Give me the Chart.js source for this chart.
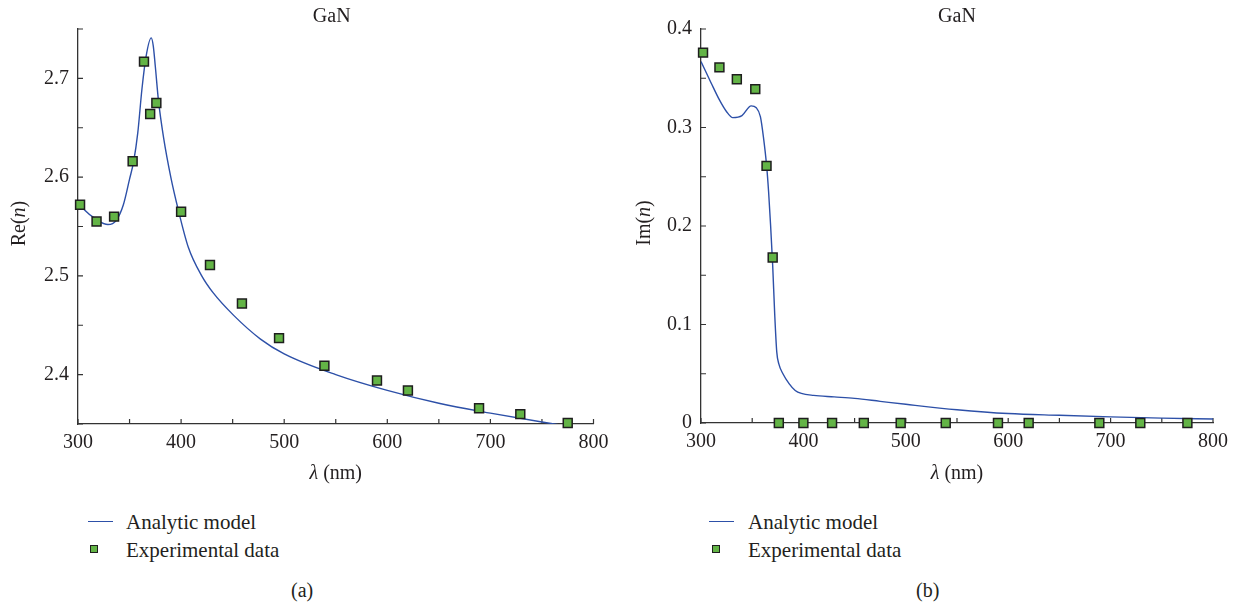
<!DOCTYPE html>
<html>
<head>
<meta charset="utf-8">
<script src="https://cdn.jsdelivr.net/npm/chart.js@4.4.1/dist/chart.umd.min.js"></script>
<style>
  body { margin: 0; background: #fff; width: 1242px; height: 607px; position: relative; overflow: hidden;
         font-family: 'Liberation Serif', serif; color: #231f20; }
  canvas { position: absolute; top: 0; }
  .txt { position: absolute; font-size: 20px; line-height: 24px; white-space: nowrap; }
  .leg { font-size: 21px; }
  .leg-line { position: absolute; width: 25px; height: 0; border-top: 1.4px solid #2d50a8; }
  .leg-sq { position: absolute; width: 6px; height: 6px; background: #63b446; border: 1.3px solid #1e1e1e; }
</style>
</head>
<body>
<canvas id="re-chart" width="621" height="500" style="left:0"></canvas>
<canvas id="im-chart" width="621" height="500" style="left:621px"></canvas>

<!-- legends + panel captions -->
<div class="leg-line" style="left:88px; top:521px"></div>
<div class="txt leg" style="left:126px; top:510px">Analytic model</div>
<div class="leg-sq" style="left:90px; top:545px"></div>
<div class="txt leg" style="left:126px; top:538px">Experimental data</div>
<div class="txt" style="left:291px; top:578px">(a)</div>

<div class="leg-line" style="left:709px; top:521px"></div>
<div class="txt leg" style="left:748px; top:510px">Analytic model</div>
<div class="leg-sq" style="left:712px; top:545px"></div>
<div class="txt leg" style="left:748px; top:538px">Experimental data</div>
<div class="txt" style="left:916px; top:578px">(b)</div>

<script>
// experimental points (wavelength in nm)
const expWl = [302, 318, 335, 353, 364, 370, 376, 400, 428, 459, 495, 539, 590, 620, 689, 729, 775];
const reExp = [2.572, 2.555, 2.560, 2.616, 2.717, 2.664, 2.675, 2.565, 2.511, 2.472, 2.437, 2.409, 2.394, 2.384, 2.366, 2.360, 2.351];
const imExp = [0.376, 0.361, 0.349, 0.339, 0.261, 0.168, 0, 0, 0, 0, 0, 0, 0, 0, 0, 0, 0];

// analytic model
const reModelWl = [300, 304, 318, 329, 337, 344, 350, 354, 358, 362, 366, 371, 373, 375, 378, 383, 390, 397, 407, 420, 431, 451, 477, 500, 550, 600, 650, 700, 750, 780];
const reModel = [2.574, 2.569, 2.557, 2.552, 2.556, 2.572, 2.598, 2.616, 2.645, 2.689, 2.722, 2.741, 2.733, 2.712, 2.678, 2.640, 2.600, 2.568, 2.529, 2.500, 2.483, 2.460, 2.436, 2.421, 2.400, 2.384, 2.371, 2.361, 2.352, 2.347];
const imModelWl = [300, 310, 318, 325, 331, 340, 349, 354, 358, 361, 364, 366, 368, 370, 372, 374, 376, 380, 386, 392, 398, 410, 430, 450, 475, 500, 550, 600, 650, 700, 750, 800];
const imModel = [0.367, 0.345, 0.328, 0.316, 0.310, 0.312, 0.322, 0.320, 0.311, 0.290, 0.262, 0.235, 0.200, 0.160, 0.110, 0.072, 0.060, 0.050, 0.040, 0.033, 0.030, 0.028, 0.0265, 0.025, 0.022, 0.019, 0.0135, 0.0096, 0.0078, 0.0062, 0.005, 0.004];

// axes
const xTicks = [300, 400, 500, 600, 700, 800];
const xMarks = [300, 350, 400, 450, 500, 550, 600, 650, 700, 750, 800];
const reTicks = [2.4, 2.5, 2.6, 2.7];
const reMarks = [2.35, 2.4, 2.45, 2.5, 2.55, 2.6, 2.65, 2.7, 2.75];
const imTicks = [0, 0.1, 0.2, 0.3, 0.4];
const imMarks = [0, 0.05, 0.1, 0.15, 0.2, 0.25, 0.3, 0.35, 0.4];

const TXT = '#231f20';
const AXIS = '#333';
const FONT = { family: "'Liberation Serif', serif", size: 20 };

Chart.defaults.font.family = FONT.family;

function drawRich(ctx, parts, x, y, rot) {
    ctx.save();
    ctx.translate(x, y);
    ctx.rotate(rot);
    const fonts = parts.map(p => (p[1] ? 'italic ' : '') + '20px "Liberation Serif", serif');
    let total = 0;
    const ws = parts.map((p, i) => { ctx.font = fonts[i]; const w = ctx.measureText(p[0]).width; total += w; return w; });
    let cx = -total / 2;
    ctx.fillStyle = TXT;
    ctx.textAlign = 'left';
    ctx.textBaseline = 'alphabetic';
    parts.forEach((p, i) => { ctx.font = fonts[i]; ctx.fillText(p[0], cx, 0); cx += ws[i]; });
    ctx.restore();
}

// inward ticks and the titles with italic symbols
const decor = {
    id: 'decor',
    beforeDatasetsDraw(chart, args, o) {
        const { ctx, chartArea: a, scales: { x, y } } = chart;
        ctx.save();
        ctx.strokeStyle = AXIS;
        ctx.lineWidth = 1.2;
        ctx.beginPath();
        o.xMarks.forEach(v => {
            const p = x.getPixelForValue(v);
            ctx.moveTo(p, a.bottom); ctx.lineTo(p, a.bottom - 5);
        });
        o.yMarks.forEach(v => {
            const p = y.getPixelForValue(v);
            ctx.moveTo(a.left, p); ctx.lineTo(a.left + 5, p);
        });
        ctx.stroke();
        ctx.restore();
    },
    afterDraw(chart, args, o) {
        const { ctx, chartArea: a } = chart;
        const cx = (a.left + a.right) / 2;
        drawRich(ctx, [['GaN', false]], cx - o.titleShift, 22, 0);
        drawRich(ctx, [['λ', true], [' (nm)', false]], cx, 479, 0);
        drawRich(ctx, o.yLabel, o.yLabelX, (a.top + a.bottom) / 2 - 3, -Math.PI / 2);
    }
};

function makeChart(id, cfg) {
    const ctx = document.getElementById(id).getContext('2d');
    return new Chart(ctx, {
        type: 'scatter',
        data: {
            datasets: [{
                label: 'Experimental data',
                data: expWl.map((x, i) => ({ x, y: cfg.exp[i] })),
                pointStyle: 'rect',
                pointRadius: 6.3,
                backgroundColor: '#63b446',
                borderColor: '#1e1e1e',
                borderWidth: 1.5,
                clip: false
            }, {
                label: 'Analytic model',
                data: cfg.modelWl.map((x, i) => ({ x, y: cfg.model[i] })),
                showLine: true,
                pointRadius: 0,
                borderColor: '#2d50a8',
                borderWidth: 1.4,
                cubicInterpolationMode: 'monotone'
            }]
        },
        options: {
            responsive: false,
            animation: false,
            devicePixelRatio: 1,
            layout: { padding: { left: 0, top: 29, right: cfg.padRight, bottom: cfg.padBottom } },
            plugins: {
                legend: { display: false },
                tooltip: { enabled: false },
                decor: { xMarks, yMarks: cfg.yMarks, yLabel: cfg.yLabel, yLabelX: cfg.yLabelX, titleShift: cfg.titleShift }
            },
            scales: {
                x: {
                    type: 'linear', min: 300, max: 800,
                    afterBuildTicks: s => { s.ticks = xTicks.map(v => ({ value: v })); },
                    afterFit: s => { s.height = 60; },
                    grid: { display: false, drawTicks: false },
                    border: { display: true, color: AXIS, width: 1.3 },
                    ticks: { color: TXT, font: FONT, padding: 7, maxRotation: 0, callback: v => String(v) }
                },
                y: {
                    type: 'linear', min: cfg.yMin, max: cfg.yMax,
                    afterBuildTicks: s => { s.ticks = cfg.yTicks.map(v => ({ value: v })); },
                    afterFit: s => { s.width = cfg.yWidth; },
                    grid: { display: false, drawTicks: false },
                    border: { display: true, color: AXIS, width: 1.3 },
                    ticks: { color: TXT, font: FONT, padding: 9, callback: v => String(v) }
                }
            }
        },
        plugins: [decor]
    });
}

makeChart('re-chart', {
    exp: reExp, modelWl: reModelWl, model: reModel,
    yMin: 2.35, yMax: 2.75, yTicks: reTicks, yMarks: reMarks,
    yWidth: 78, padRight: 27.5, padBottom: 16,
    yLabel: [['Re(', false], ['n', true], [')', false]], yLabelX: 25, titleShift: 4
});

makeChart('im-chart', {
    exp: imExp, modelWl: imModelWl, model: imModel,
    yMin: 0, yMax: 0.4, yTicks: imTicks, yMarks: imMarks,
    yWidth: 80, padRight: 29, padBottom: 17,
    yLabel: [['Im(', false], ['n', true], [')', false]], yLabelX: 29, titleShift: 0
});
</script>
</body>
</html>
